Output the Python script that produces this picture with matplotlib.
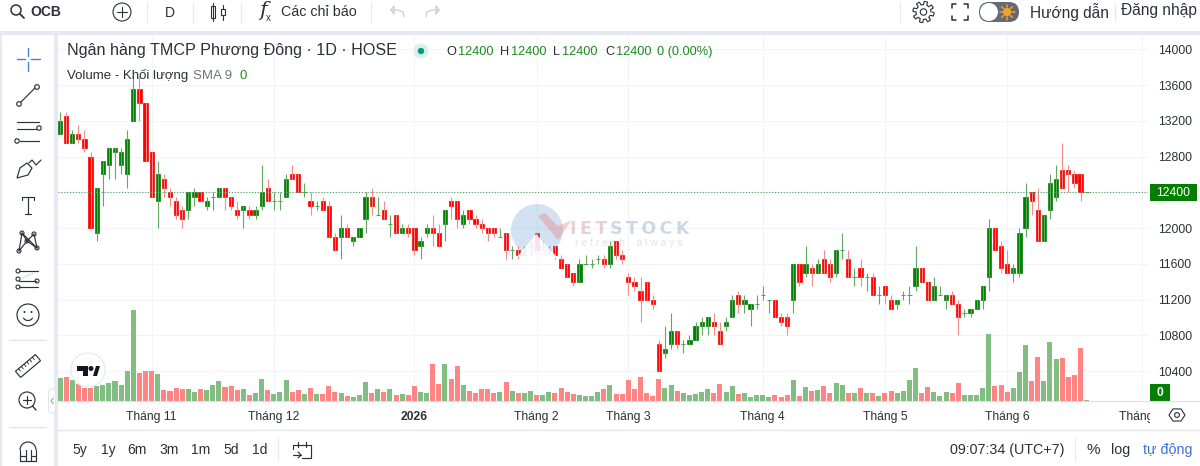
# Daily candlestick chart of OCB with volume pane and the surrounding terminal toolbars
import numpy as np
import matplotlib
matplotlib.use('Agg')
import matplotlib.pyplot as plt
from matplotlib.patches import Circle, Rectangle, Polygon, FancyBboxPatch, Arc

plt.rcParams['font.family'] = ['Liberation Sans', 'DejaVu Sans']

opens = [13050, 13250, 12950, 13050, 13000, 12800, 11950, 12600, 12700, 12850, 12700, 12600, 13200, 13550, 13400,
         12850, 12300, 12550, 12400, 12300, 12200, 12200, 12350, 12400, 12250, 12350, 12350, 12450, 12350, 12200,
         12200, 12200, 12150, 12250, 12450, 12300, 12300, 12350, 12600, 12600, 12400, 12300, 12250, 12300, 12250,
         11900, 11900, 12000, 11850, 11900, 12100, 12350, 12150, 12200, 12050, 12150, 11950, 12000, 12000, 11800,
         11950, 12000, 11950, 12050, 12300, 12300, 12050, 12200, 12100, 12050, 12000, 12000, 11900, 11950, 11750,
         11750, 11700, 11800, 11950, 11800, 11750, 11800, 11650, 11600, 11500, 11400, 11600, 11600, 11650, 11650,
         11600, 11850, 11700, 11450, 11400, 11300, 11400, 11200, 10700, 10600, 10700, 10850, 10700, 10700, 10750,
         10900, 10900, 10950, 10850, 10900, 11000, 11250, 11150, 11100, 11150, 11250, 11200, 11200, 11000, 11000,
         11200, 11600, 11500, 11550, 11500, 11650, 11600, 11500, 11750, 11650, 11450, 11550, 11450, 11450, 11250,
         11350, 11200, 11150, 11250, 11250, 11350, 11550, 11400, 11200, 11250, 11200, 11250, 11150, 11050, 11050,
         11100, 11200, 11450, 12000, 11800, 11600, 11500, 11500, 12000, 12400, 12200, 11850, 12200, 12350, 12650,
         12650, 12600, 12600, 12400]
closes = [13200, 12950, 13050, 13000, 12900, 12000, 12450, 12750, 12900, 12900, 12850, 13000, 13550, 13400, 12750,
          12350, 12600, 12450, 12350, 12150, 12100, 12400, 12400, 12300, 12300, 12350, 12450, 12350, 12250, 12150,
          12250, 12150, 12200, 12400, 12300, 12300, 12300, 12550, 12550, 12400, 12400, 12250, 12250, 12200, 11900,
          11750, 12000, 11900, 11900, 12000, 12350, 12250, 12150, 12100, 12050, 11950, 12000, 11950, 11750, 11850,
          12000, 11950, 11800, 12200, 12250, 12100, 12150, 12100, 12050, 12000, 11950, 11950, 11900, 11750, 11750,
          11700, 11700, 11800, 11750, 11800, 11750, 11700, 11550, 11450, 11400, 11600, 11600, 11600, 11650, 11600,
          11800, 11700, 11650, 11400, 11350, 11200, 11200, 11150, 10400, 10650, 10850, 10700, 10700, 10750, 10900,
          10950, 11000, 10900, 10700, 10950, 11200, 11150, 11200, 11150, 11150, 11250, 11200, 11000, 10950, 10900,
          11600, 11400, 11600, 11500, 11600, 11500, 11450, 11750, 11750, 11450, 11450, 11450, 11450, 11250, 11250,
          11250, 11100, 11200, 11250, 11250, 11550, 11400, 11200, 11350, 11250, 11250, 11150, 11000, 11050, 11100,
          11200, 11350, 12000, 11750, 11550, 11500, 11550, 11950, 12350, 12300, 11850, 12150, 12500, 12550, 12450,
          12600, 12500, 12400, 12400]
highs = [13300, 13300, 13100, 13150, 13100, 12850, 12450, 12750, 12900, 12900, 12900, 13100, 13700, 13700, 13400,
         12850, 12750, 12600, 12450, 12350, 12250, 12400, 12450, 12400, 12350, 12400, 12450, 12450, 12350, 12300,
         12250, 12250, 12250, 12700, 12550, 12400, 12400, 12600, 12700, 12600, 12500, 12400, 12300, 12350, 12300,
         11950, 12150, 12050, 11900, 12000, 12400, 12450, 12350, 12300, 12150, 12150, 12050, 12050, 12000, 11900,
         12050, 12150, 12050, 12200, 12350, 12300, 12200, 12200, 12150, 12100, 12000, 12000, 12000, 11950, 11800,
         11800, 11800, 11850, 11950, 11850, 11800, 11800, 11700, 11600, 11500, 11650, 11700, 11650, 11700, 11700,
         11850, 11850, 11750, 11500, 11450, 11450, 11400, 11250, 10750, 10900, 11050, 10850, 10750, 10800, 10950,
         11000, 11000, 11050, 10950, 11000, 11250, 11300, 11250, 11150, 11250, 11350, 11200, 11200, 11050, 11050,
         11600, 11600, 11800, 11600, 11650, 11750, 11650, 11750, 11950, 11750, 11550, 11650, 11500, 11500, 11350,
         11350, 11250, 11200, 11300, 11350, 11800, 11550, 11400, 11450, 11350, 11250, 11300, 11200, 11100, 11100,
         11200, 11350, 12100, 12000, 11850, 11750, 11600, 12000, 12500, 12400, 12450, 12150, 12600, 12700, 12950,
         12700, 12650, 12600, 12400]
lows = [13050, 12950, 12950, 12950, 12850, 12000, 11850, 12250, 12550, 12550, 12600, 12450, 13200, 13200, 12750,
        12350, 12000, 12350, 12250, 12100, 12000, 12100, 12250, 12300, 12200, 12200, 12350, 12200, 12200, 12100,
        12000, 12100, 12100, 12200, 12300, 12200, 12200, 12350, 12550, 12400, 12350, 12150, 12200, 12200, 11900,
        11750, 11650, 11900, 11800, 11900, 11950, 12150, 12150, 12100, 11900, 11950, 11950, 11900, 11700, 11650,
        11900, 11800, 11800, 11850, 12100, 12000, 12000, 12050, 12000, 11950, 11850, 11900, 11900, 11650, 11650,
        11650, 11700, 11700, 11750, 11750, 11700, 11650, 11550, 11450, 11350, 11400, 11600, 11550, 11600, 11550,
        11550, 11650, 11600, 11250, 11300, 10950, 11200, 11100, 10400, 10550, 10650, 10650, 10600, 10700, 10750,
        10800, 10800, 10800, 10700, 10850, 11000, 11050, 11050, 10900, 11100, 11200, 11050, 11000, 10900, 10800,
        11050, 11350, 11450, 11350, 11500, 11500, 11400, 11450, 11650, 11450, 11350, 11350, 11300, 11250, 11150,
        11150, 11100, 11100, 11200, 11150, 11300, 11400, 11200, 11200, 11250, 11100, 11150, 10800, 11000, 11000,
        11100, 11100, 11300, 11750, 11500, 11500, 11400, 11450, 11900, 12150, 11850, 11850, 12100, 12300, 12450,
        12400, 12450, 12300, 12400]
volumes = [69, 73, 64, 50, 38, 38, 44, 47, 54, 61, 47, 89, 274, 85, 89, 89, 81, 32, 30, 40, 37, 37, 28, 37, 32,
           48, 61, 42, 44, 34, 37, 17, 24, 67, 32, 22, 26, 62, 26, 34, 20, 40, 22, 22, 44, 28, 24, 15, 13, 17,
           56, 24, 36, 28, 36, 17, 22, 17, 44, 26, 24, 110, 50, 110, 66, 105, 48, 30, 25, 37, 36, 25, 27, 56, 30,
           25, 25, 29, 19, 18, 27, 23, 39, 27, 21, 18, 15, 16, 27, 35, 48, 21, 21, 63, 36, 72, 23, 15, 65, 39,
           48, 30, 23, 19, 21, 27, 35, 23, 51, 27, 45, 21, 23, 12, 18, 17, 12, 17, 12, 17, 62, 15, 41, 29, 33,
           45, 25, 53, 48, 25, 25, 38, 25, 23, 15, 25, 29, 25, 31, 63, 100, 23, 43, 27, 15, 27, 25, 53, 19, 19,
           19, 39, 200, 45, 47, 27, 39, 86, 167, 60, 131, 60, 177, 125, 129, 73, 78, 159, 2]

price_ticks = list(range(10400, 14001, 400))
month_pos = [15, 35, 58, 78, 93, 115, 135, 155, 177]
month_labels = ['Tháng 11', 'Tháng 12', '2026', 'Tháng 2', 'Tháng 3', 'Tháng 4', 'Tháng 5', 'Tháng 6', 'Tháng 7']
last_price = 12400

W, H = 1200, 466
UP, DOWN = '#008000', '#ff0000'
UP_WICK, DOWN_WICK = '#62a862', '#f58b8b'
UP_VOL, DOWN_VOL = '#82bd82', '#ff8585'
GRID = '#f2f4f7'
GUTTER = '#e6e9f1'
INK = '#2c3038'

fig = plt.figure(figsize=(W / 100, H / 100), dpi=100, facecolor='white')

# chart pane spans x 58..1148 and y 36..401 in figure pixels
pos = [58 / W, (H - 401) / H, (1148 - 58) / W, 365 / H]
ax = fig.add_axes(pos, zorder=1)
x = np.arange(len(opens))
o, c, h, l = map(np.array, (opens, closes, highs, lows))
up = c >= o

ax.vlines(x[up], l[up], h[up], color=UP_WICK, lw=0.8)
ax.vlines(x[~up], l[~up], h[~up], color=DOWN_WICK, lw=0.8)
ax.bar(x[up], np.abs(c - o)[up], bottom=np.minimum(o, c)[up], width=0.7, color=UP, edgecolor=UP, lw=0.5)
ax.bar(x[~up], np.abs(c - o)[~up], bottom=np.minimum(o, c)[~up], width=0.7, color=DOWN, edgecolor=DOWN, lw=0.5)
ax.axhline(last_price, color='#4f9f5f', lw=0.8, ls=(0, (1, 1.6)))

ax.set_xlim(-0.327, 178.04)
ax.set_ylim(10066, 14148)
ax.yaxis.tick_right()
ax.set_yticks(price_ticks)
ax.set_xticks(month_pos)
ax.set_xticklabels(month_labels)
ax.get_xticklabels()[2].set_fontweight('bold')
ax.tick_params(axis='y', length=0, pad=7.3, labelsize=8.7, labelcolor=INK)
ax.tick_params(axis='x', length=0, pad=7, labelsize=8.7, labelcolor=INK)
ax.grid(True, color=GRID, lw=0.8)
ax.set_axisbelow(True)
for side in ax.spines.values():
    side.set_visible(False)

# volume pane shares the same area, on top of the price grid
ax_vol = fig.add_axes(pos, zorder=2)
ax_vol.patch.set_visible(False)
vol_colors = [UP_VOL if u else DOWN_VOL for u in up]
ax_vol.bar(x, volumes, width=0.82, color=vol_colors)
ax_vol.set_xlim(ax.get_xlim())
ax_vol.set_ylim(0, 1095)
ax_vol.axis('off')

# toolbars, labels and icons are laid out in figure pixels on a transparent overlay
ui = fig.add_axes([0, 0, 1, 1], zorder=3)
ui.set_xlim(0, W)
ui.set_ylim(H, 0)
ui.axis('off')


def rect(x0, y0, x1, y1, color, **kw):
    ui.add_patch(Rectangle((x0, y0), x1 - x0, y1 - y0, facecolor=color, edgecolor='none', **kw))


def line(xs, ys, color=INK, lw=0.85, **kw):
    ui.plot(xs, ys, color=color, lw=lw, solid_capstyle='round', **kw)


def ring(cx, cy, r, color=INK, lw=0.85, fill='none'):
    ui.add_patch(Circle((cx, cy), r, facecolor=fill, edgecolor=color, lw=lw))


def label(px, py, s, size=10, color=INK, ha='left', **kw):
    ui.text(px, py, s, fontsize=size, color=color, ha=ha, va='center', **kw)


# page gutters and separators
rect(0, 31, W, 35, GUTTER)
rect(54, 35, 58, H, GUTTER)
rect(0, 35, 2, H, GUTTER)
rect(1150, 402, W, 429, 'white')
line([58, W], [401, 401], '#dcdfe6', 0.8)
line([58, W], [429.5, 429.5], '#e4e6ec', 1.0)
for sx in (147, 193, 241, 371, 900):
    line([sx, sx], [2, 23], '#e8eaef', 0.9)
line([278, 278], [438, 461], '#e8eaef', 0.9)
line([1075, 1075], [438, 461], '#e8eaef', 0.9)
line([1115, 1115], [4, 20], '#e2e4ea', 0.8)

# top toolbar
ring(16, 10, 5, INK, 1.1)
line([20, 24], [14, 18], INK, 1.3)
label(30, 12, 'OCB', 10, INK, fontweight='bold')
ring(122, 12, 9, INK, 0.8)
line([117, 127], [12, 12], INK, 0.8)
line([122, 122], [7, 17], INK, 0.8)
label(170, 13, 'D', 10, INK, ha='center')
line([212.5, 212.5], [3, 21], INK, 0.8)
line([222.5, 222.5], [5, 20], INK, 0.8)
ui.add_patch(Rectangle((210.5, 6), 4, 12, facecolor='none', edgecolor=INK, lw=0.8))
ui.add_patch(Rectangle((220.5, 9), 4, 6, facecolor='white', edgecolor=INK, lw=0.8, zorder=3))
label(259, 11, 'f', 15, INK, fontstyle='italic', family='DejaVu Serif')
label(266, 18, 'x', 7, INK)
label(281, 12, 'Các chỉ báo', 10.3, INK)
for ax0, sgn in ((397, 1), (433, -1)):
    line([ax0 - 6 * sgn, ax0 + 1 * sgn, ax0 + 6 * sgn, ax0 + 7 * sgn], [10, 10, 12, 17], '#c6c9d0', 0.8)
    line([ax0 - 6 * sgn, ax0 - 3 * sgn, ax0 - 3 * sgn, ax0 - 6 * sgn], [10, 6, 14, 10], '#c6c9d0', 0.8)

# settings gear, fullscreen corners and theme switch
ang = np.linspace(0, 2 * np.pi, 97)
gear_r = 9 + 1.6 * np.sign(np.sin(8 * ang))
ui.plot(923.5 + gear_r * np.cos(ang), 12 + gear_r * np.sin(ang), color=INK, lw=0.8)
ring(923.5, 12, 3.2, INK, 0.8)
for sx, sy in ((952, 4), (968, 4), (952, 20), (968, 20)):
    dx = 4 if sx < 960 else -4
    dy = 4 if sy < 12 else -4
    line([sx + dx, sx, sx], [sy, sy, sy + dy], INK, 1.1)
ui.add_patch(FancyBboxPatch((979, 2), 40, 20, boxstyle='round,pad=0,rounding_size=10',
                            facecolor='#646a75', edgecolor='#646a75', lw=0))
ui.add_patch(Circle((989, 12), 9, facecolor='white', edgecolor='none'))
ui.add_patch(Circle((1007, 12), 4.2, facecolor='#f3a02c', edgecolor='none'))
for a in np.linspace(0, 2 * np.pi, 9)[:-1]:
    line([1007 + 5 * np.cos(a), 1007 + 7.5 * np.cos(a)], [12 + 5 * np.sin(a), 12 + 7.5 * np.sin(a)], '#f3a02c', 1.1)
label(1030, 12, 'Hướng dẫn', 11.2, INK)
label(1121, 11, 'Đăng nhập', 11.2, INK)

# drawing tools on the left
BLUE = '#4a80dc'
line([17, 25], [59, 59], BLUE, 1.0)
line([31, 40], [59, 59], BLUE, 1.0)
line([28, 28], [48, 56], BLUE, 1.0)
line([28, 28], [62, 71], BLUE, 1.0)
line([21, 35], [102, 88], INK)
ring(19, 104, 2.3)
ring(37, 87, 2.3)
line([17, 39], [122, 122])
line([17, 36], [129, 129])
line([20, 39], [141, 141])
ring(39, 128, 2.2)
ring(17, 141, 2.2)
ui.add_patch(Polygon([(17, 178), (20, 168), (27, 163), (32, 168), (28, 175)], closed=True, facecolor='none',
                     edgecolor=INK, lw=0.85))
line([29, 32, 36, 41], [163, 160, 165, 160], INK)
line([22, 34], [197, 197])
line([22, 22], [197, 200])
line([34, 34], [197, 200])
line([28, 28], [197, 214])
line([25, 31], [214, 214])
pts = np.array([(22, 233), (34, 234), (19, 251), (37, 248), (27, 241)])
line(pts[[2, 0, 4, 1, 3], 0], pts[[2, 0, 4, 1, 3], 1])
line(pts[[2, 4, 3], 0], pts[[2, 4, 3], 1])
line(pts[[0, 3], 0], pts[[0, 3], 1])
for p in pts:
    ring(p[0], p[1], 2.0, INK, 0.8, 'white')
line([19, 38], [271, 271])
line([19, 36], [281, 281])
line([19, 38], [287, 287])
line([20, 34], [279, 273], '#9a9da5', 0.7, ls=':')
for p in ((18, 271), (18, 279), (18, 287), (37, 281)):
    ring(p[0], p[1], 2.0, INK, 0.8, 'white')
ring(28, 315, 11)
ui.add_patch(Circle((24.5, 312), 1, facecolor=INK))
ui.add_patch(Circle((31.5, 312), 1, facecolor=INK))
ui.add_patch(Arc((28, 316), 10, 9, theta1=20, theta2=160, color=INK, lw=0.85))
line([9, 46], [340, 340], '#e4e6ec', 0.9)
rad = np.deg2rad(-40)
ax_u = np.array([np.cos(rad), np.sin(rad)])
ax_v = np.array([-np.sin(rad), np.cos(rad)])
rc = np.array([28, 366])
ui.add_patch(Polygon([rc + s * 13 * ax_u + t * 4 * ax_v for s, t in ((-1, -1), (1, -1), (1, 1), (-1, 1))],
                     closed=True, facecolor='none', edgecolor=INK, lw=0.85))
for s in np.arange(-9, 10, 3.6):
    a0 = rc + s * ax_u - 4 * ax_v
    a1 = rc + s * ax_u - 1 * ax_v
    line([a0[0], a1[0]], [a0[1], a1[1]], INK, 0.7)
ring(27, 400, 8)
line([32.5, 36], [406, 410], INK, 1.0)
line([23, 31], [400, 400])
line([27, 27], [396, 404])
ui.add_patch(FancyBboxPatch((48.5, 389), 7, 24, boxstyle='round,pad=0,rounding_size=3', facecolor='white',
                            edgecolor='#e2e4ea', lw=0.7))
line([53.5, 51, 53.5], [398, 401, 404], '#9ea2aa', 0.8)
line([9, 46], [427, 427], '#e4e6ec', 0.9)
ui.add_patch(Arc((28, 450), 16, 16, theta1=180, theta2=360, color=INK, lw=0.85))
line([20, 20, 36, 36], [450, 461, 461, 450], INK)
line([25.5, 25.5], [461, 450], INK)
line([30.5, 30.5], [461, 450], INK)
line([20, 25.5], [456, 456], INK)
line([30.5, 36], [456, 456], INK)

# legend lines over the chart
label(67, 51, 'Ngân hàng TMCP Phương Đông · 1D · HOSE', 11.6, INK)
ui.add_patch(Circle((421, 51), 7.5, facecolor='#d9f0ec', edgecolor='none'))
ui.add_patch(Circle((421, 51), 3.2, facecolor='#089981', edgecolor='none'))
OHLC_GREEN = '#1c8a1c'
for px, s, vx in ((446, 'O', 458), (500, 'H', 511), (553, 'L', 562), (605, 'C', 616)):
    label(px, 52, s, 9.2, INK)
    label(vx, 52, '12400', 9.2, OHLC_GREEN)
label(657, 52, '0 (0.00%)', 9.2, OHLC_GREEN)
label(67, 76, 'Volume - Khối lượng', 9.5, INK)
label(193, 76, 'SMA 9', 9.5, '#6f747c')
label(240, 76, '0', 9.5, OHLC_GREEN)

# price and volume badges on the right axis
rect(1150, 184, 1197, 201, '#007f00')
label(1173.5, 192.5, '12400', 8.7, 'white', ha='center')
rect(1150, 384, 1170, 401, '#007f00')
label(1160, 392.5, '0', 8.7, 'white', ha='center', fontweight='bold')

# hexagon next to the time axis
hx = 1177 + 8 * np.cos(np.arange(6) * np.pi / 3)
hy = 415 + 7 * np.sin(np.arange(6) * np.pi / 3)
ui.add_patch(Polygon(np.column_stack([hx, hy]), closed=True, facecolor='none', edgecolor=INK, lw=0.8))
ring(1177, 415, 2.4, INK, 0.8)

# bottom bar
for px, s in ((80, '5y'), (108, '1y'), (137, '6m'), (169, '3m'), (201, '1m'), (231, '5d'), (260, '1d')):
    label(px, 450, s, 10, INK, ha='center')
line([298, 298], [442, 447])
line([306, 306], [442, 447])
line([293, 293, 311, 311, 302], [449, 445, 445, 458, 458])
line([293, 301], [455, 455])
line([298, 301, 298], [452, 455, 458])
label(950, 450, '09:07:34 (UTC+7)', 10.3, INK)
label(1093, 450, '%', 11, INK, ha='center')
label(1121, 450, 'log', 10.3, INK, ha='center')
label(1167.5, 450, 'tự động', 10.3, '#3f6fd8', ha='center')

# TradingView badge
ui.add_patch(Circle((88, 370), 17, facecolor='white', edgecolor='#e6e8ec', lw=0.8))
ui.add_patch(Polygon([(77, 366), (88, 366), (88, 376), (83, 376), (83, 371), (77, 371)], closed=True, facecolor='#131722'))
ui.add_patch(Circle((91, 368.5), 2.5, facecolor='#131722'))
ui.add_patch(Polygon([(93, 376), (96, 366), (100, 366), (97, 376)], closed=True, facecolor='#131722'))

# watermark, translucent over the candles
ui.add_patch(Circle((537, 230), 26, facecolor='#5a96cf', edgecolor='none', alpha=0.27))
ui.add_patch(Polygon([(517, 257), (536, 234), (558, 258)], closed=True, facecolor='white', alpha=0.85))
ui.add_patch(Polygon([(538, 216), (545, 213), (558, 226), (572, 220), (558, 240)], closed=True, facecolor='#ef6b6b',
                     alpha=0.32))
ui.text(570, 229, 'I\u2009E\u2009T', fontsize=12.5, fontweight='bold', color='#c98a96', alpha=0.4, va='center',
        family='DejaVu Sans')
ui.text(610, 229, 'S\u2009T\u2009O\u2009C\u2009K', fontsize=12.5, fontweight='bold', color='#6e94b8', alpha=0.35,
        va='center', family='DejaVu Sans')
ui.text(575, 243, 'r e f r e s h    a l w a y s', fontsize=7.5, color='#8fa6bd', alpha=0.3, va='center')

fig.savefig('out.png', dpi=100, facecolor='white')
